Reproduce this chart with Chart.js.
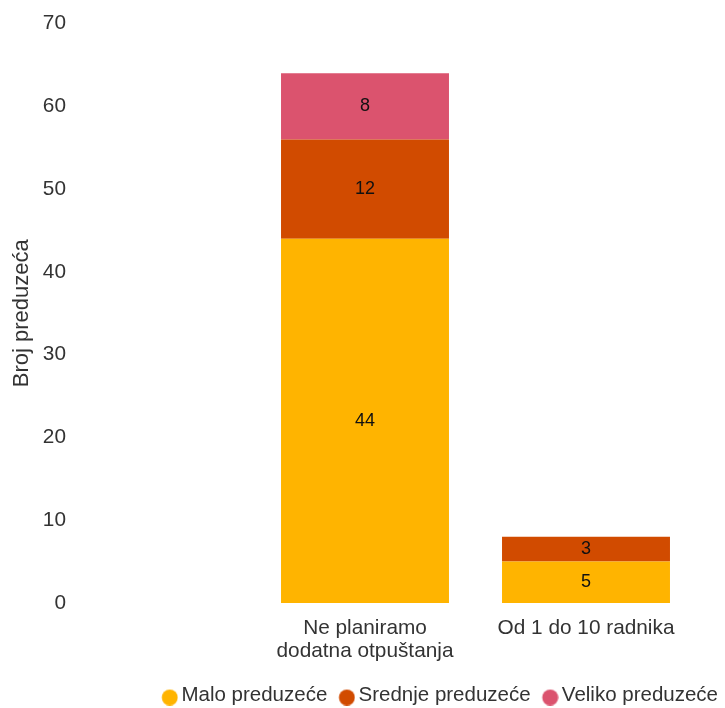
<!DOCTYPE html>
<html>
<head>
<meta charset="utf-8">
<script src="https://cdn.jsdelivr.net/npm/chart.js@4.4.1/dist/chart.umd.min.js"></script>
<style>
  html, body { margin: 0; padding: 0; background: #fff; }
  #wrap { width: 725px; height: 708px; position: relative; }
</style>
</head>
<body>
<div id="wrap"><canvas id="barChart"></canvas></div>
<script>
// --- Data ---
const categories = [['Ne planiramo', 'dodatna otpuštanja'], 'Od 1 do 10 radnika'];
const seriesNames = ['Malo preduzeće', 'Srednje preduzeće', 'Veliko preduzeće'];
const maloValues = [44, 5];
const srednjeValues = [12, 3];
const velikoValues = [8, null];
const seriesColors = ['#FFB400', '#D14B00', '#DB536E'];
const yTicks = { min: 0, max: 70, step: 10 };
const yTitle = 'Broj preduzeća';

const FONT = '"Liberation Sans", Arial, sans-serif';
const TEXT_COLOR = '#333';

// legend dots: drawn a bit right/down of the box centre so they sit close to the text
function makeDot(color) {
    const c = document.createElement('canvas');
    c.width = 28;
    c.height = 20;
    const g = c.getContext('2d');
    g.fillStyle = color;
    g.beginPath();
    g.arc(19.6, 12, 8, 0, Math.PI * 2);
    g.fill();
    return c;
}
const dots = seriesColors.map(makeDot);

// values written in the middle of each stacked segment
const segmentLabels = {
    id: 'segmentLabels',
    afterDatasetsDraw(chart) {
        const ctx = chart.ctx;
        ctx.save();
        ctx.font = '18px ' + FONT;
        ctx.fillStyle = '#111';
        ctx.textAlign = 'center';
        ctx.textBaseline = 'middle';
        chart.data.datasets.forEach((ds, i) => {
            const meta = chart.getDatasetMeta(i);
            meta.data.forEach((bar, j) => {
                const v = ds.data[j];
                if (v === null || v === 0) return;
                ctx.fillText(String(v), bar.x, (bar.y + bar.base) / 2);
            });
        });
        ctx.restore();
    }
};

const datasets = [maloValues, srednjeValues, velikoValues].map((vals, i) => ({
    label: seriesNames[i],
    data: vals,
    backgroundColor: seriesColors[i],
    borderWidth: 0,
    categoryPercentage: 0.8,
    barPercentage: 0.95
}));

// --- Chart ---
const ctx = document.getElementById('barChart').getContext('2d');
const chart = new Chart(ctx, {
    type: 'bar',
    data: { labels: categories, datasets: datasets },
    options: {
        responsive: true,
        maintainAspectRatio: false,
        animation: false,
        layout: { padding: { top: 23.5, right: 0, left: 0, bottom: 0 } },
        scales: {
            x: {
                stacked: true,
                grid: { display: false, drawTicks: false },
                border: { display: false },
                ticks: {
                    color: TEXT_COLOR,
                    padding: 14,
                    maxRotation: 0,
                    font: { family: FONT, size: 20.8, lineHeight: 1.1 }
                },
                afterFit: (scale) => {
                    scale.height = 75.3;
                    scale.paddingRight = 28.5;
                }
            },
            y: {
                stacked: true,
                min: yTicks.min,
                max: yTicks.max,
                grid: { display: false, drawTicks: false },
                border: { display: false },
                ticks: {
                    stepSize: yTicks.step,
                    color: TEXT_COLOR,
                    padding: 188.5,
                    font: { family: FONT, size: 20.8 }
                },
                title: {
                    display: true,
                    text: yTitle,
                    color: TEXT_COLOR,
                    padding: { top: 9, bottom: 0 },
                    font: { family: FONT, size: 22 }
                },
                afterFit: (scale) => {
                    // big tick padding also gets added top/bottom, undo that
                    scale.width = 254.5;
                    scale.paddingTop = 0;
                    scale.paddingBottom = 0;
                }
            }
        },
        plugins: {
            legend: {
                position: 'bottom',
                align: 'end',
                maxHeight: 29.7,
                labels: {
                    usePointStyle: true,
                    pointStyleWidth: 14,
                    boxHeight: 16,
                    padding: 7,
                    color: TEXT_COLOR,
                    font: { family: FONT, size: 20.5 },
                    generateLabels: (c) => {
                        const items = Chart.defaults.plugins.legend.labels.generateLabels(c);
                        items.forEach((it, i) => { it.pointStyle = dots[i]; });
                        return items;
                    }
                }
            },
            tooltip: { enabled: false }
        }
    },
    plugins: [segmentLabels]
});
</script>
</body>
</html>
